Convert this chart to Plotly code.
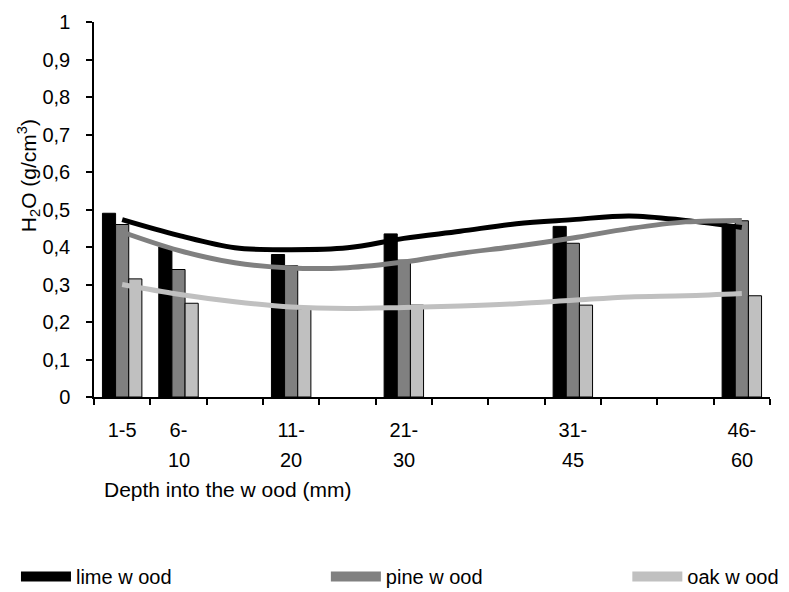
import plotly.graph_objects as go

# ---- data ----
categories = ["1-5", "6-10", "g1", "11-20", "g2", "21-30", "g3", "g4", "31-45", "g5", "g6", "46-60"]
tick_line1 = ["1-5", "6-", "", "11-", "", "21-", "", "", "31-", "", "", "46-"]
tick_line2 = ["", "10", "", "20", "", "30", "", "", "45", "", "", "60"]

bar_categories = ["1-5", "6-10", "11-20", "21-30", "31-45", "46-60"]
lime_bars = [0.49, 0.40, 0.38, 0.435, 0.455, 0.46]
pine_bars = [0.46, 0.34, 0.35, 0.365, 0.41, 0.47]
oak_bars = [0.315, 0.25, 0.235, 0.245, 0.245, 0.27]

lime_trend = [0.473, 0.431, 0.398, 0.393, 0.398, 0.423, 0.442, 0.462, 0.473, 0.483, 0.471, 0.452]
pine_trend = [0.44, 0.391, 0.358, 0.344, 0.345, 0.36, 0.383, 0.402, 0.424, 0.449, 0.467, 0.471]
oak_trend = [0.30, 0.274, 0.254, 0.24, 0.236, 0.239, 0.243, 0.249, 0.258, 0.267, 0.27, 0.276]

series_names = ["lime w ood", "pine w ood", "oak w ood"]
colors = ["#000000", "#808080", "#c0c0c0"]

FONT = "Liberation Sans, Arial, sans-serif"

fig = go.Figure()
for name, vals, col in zip(series_names, [lime_bars, pine_bars, oak_bars], colors):
    fig.add_trace(go.Bar(x=bar_categories, y=vals, name=name, marker_color=col,
                         marker_line_color="#000000", marker_line_width=1,
                         showlegend=False))
for vals, col in zip([lime_trend, pine_trend, oak_trend], colors):
    fig.add_trace(go.Scatter(x=categories, y=vals, mode="lines",
                             line=dict(color=col, width=5, shape="spline", smoothing=1.0),
                             showlegend=False, hoverinfo="skip"))
# legend entries
legend_ids = ["legend", "legend2", "legend3"]
for name, col, lg in zip(series_names, colors, legend_ids):
    fig.add_trace(go.Scatter(x=[None], y=[None], mode="lines", name=name,
                             line=dict(color=col, width=13), legend=lg))

# second line of tick labels
for cat, t in zip(categories, tick_line2):
    if t:
        fig.add_annotation(x=cat, y=0, xref="x", yref="y", text=t, showarrow=False,
                           yshift=-63, font=dict(family=FONT, size=20, color="#000"))

fig.add_annotation(x=0.012, y=-0.246, xref="paper", yref="paper", xanchor="left",
                   yanchor="middle", showarrow=False, text="Depth into the w ood (mm)",
                   font=dict(family=FONT, size=21, color="#000"))
fig.add_annotation(x=-0.0976, y=0.589, xref="paper", yref="paper", textangle=-90,
                   xanchor="center", yanchor="middle",
                   showarrow=False, text="H<sub>2</sub>O (g/cm<sup>3</sup>)",
                   font=dict(family=FONT, size=21, color="#000"))

leg_common = dict(orientation="h", yanchor="middle", xanchor="left",
                  xref="container", yref="container", y=0.0265,
                  font=dict(family=FONT, size=20, color="#000"),
                  bgcolor="rgba(0,0,0,0)", itemwidth=50, tracegroupgap=0)
fig.update_layout(
    width=781, height=584,
    margin=dict(l=86, r=19, t=14, b=195, autoexpand=False),
    paper_bgcolor="white", plot_bgcolor="white",
    separators=",.",
    barmode="group", bargap=0.3, bargroupgap=0,
    font=dict(family=FONT, size=20, color="#000"),
    legend=dict(x=0.0102, **leg_common),
    legend2=dict(x=0.407, **leg_common),
    legend3=dict(x=0.793, **leg_common),
    xaxis=dict(type="category", categoryorder="array", categoryarray=categories,
               tickmode="array", tickvals=categories, ticktext=tick_line1,
               tickson="boundaries", ticks="outside", ticklen=6, tickwidth=1.5,
               tickcolor="#000", showline=True, linecolor="#000", linewidth=1.5,
               showgrid=False, ticklabelstandoff=14, automargin=False,
               tickfont=dict(family=FONT, size=20, color="#000")),
    yaxis=dict(range=[0, 1], dtick=0.1, tick0=0, ticks="outside", ticklen=6, tickwidth=1.5,
               tickcolor="#000", showline=True, linecolor="#000", linewidth=1.5,
               showgrid=False, zeroline=False, ticklabelstandoff=12, automargin=False,
               tickfont=dict(family=FONT, size=20, color="#000")),
)
fig.write_html("out.html")
